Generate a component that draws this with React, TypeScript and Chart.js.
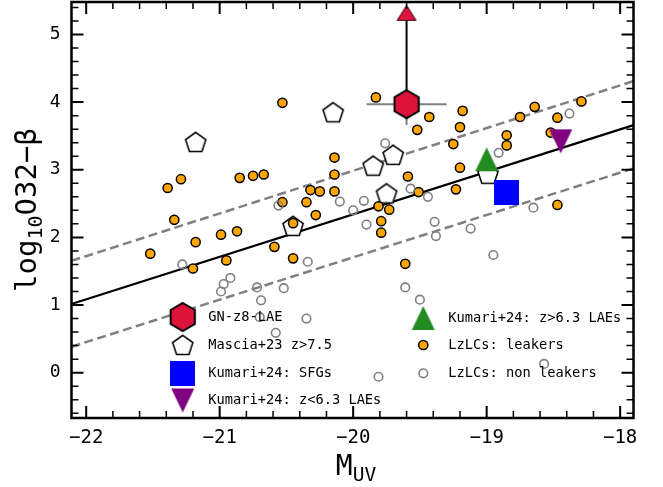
import React, { useEffect, useRef } from 'react';
import { Chart, registerables } from 'chart.js';
Chart.register(...registerables);

const FONT = "'DejaVu Sans Mono', monospace";

const xTicks = [-22, -21, -20, -19, -18];
const yTicks = [0, 1, 2, 3, 4, 5];
const xLimits = [-22.11, -17.9];
const yLimits = [-0.67, 5.48];

// LzLCs: leakers
const leakersX = [-20.53, -20.14, -20.14, -20.14, -21.39, -21.29, -20.85, -20.75, -20.67, -20.32,
  -20.25, -20.53, -20.35, -20.28, -20.45, -21.34, -20.99, -20.87, -21.18, -21.52,
  -20.59, -20.45, -20.95, -21.20, -19.83, -19.43, -19.52, -19.18, -19.20, -19.25,
  -18.85, -18.85, -18.75, -18.64, -18.47, -18.29, -18.52, -19.59, -19.20, -19.23,
  -19.51, -19.81, -19.73, -19.79, -19.79, -19.61, -18.47];
const leakersY = [3.99, 3.18, 2.93, 2.68, 2.73, 2.86, 2.88, 2.91, 2.93, 2.70,
  2.68, 2.52, 2.52, 2.33, 2.21, 2.26, 2.04, 2.09, 1.93, 1.76,
  1.86, 1.69, 1.66, 1.54, 4.07, 3.78, 3.59, 3.87, 3.63, 3.38,
  3.51, 3.36, 3.78, 3.93, 3.77, 4.01, 3.55, 2.90, 3.03, 2.71,
  2.67, 2.46, 2.41, 2.24, 2.07, 1.61, 2.48];

// LzLCs: non leakers
const nonLeakersX = [-20.56, -20.10, -20.00, -19.92, -19.90, -19.76, -19.57, -19.44, -19.39, -19.38,
  -19.12, -18.95, -19.61, -19.50, -18.91, -18.38, -18.48, -18.65, -18.57, -19.81,
  -21.28, -20.34, -20.92, -20.97, -20.99, -20.72, -20.52, -20.69, -20.70, -20.35, -20.58];
const nonLeakersY = [2.47, 2.53, 2.40, 2.54, 2.19, 3.39, 2.72, 2.60, 2.23, 2.02,
  2.13, 1.74, 1.26, 1.08, 3.25, 3.83, 3.52, 2.44, 0.13, -0.06,
  1.60, 1.64, 1.40, 1.31, 1.20, 1.26, 1.25, 1.07, 0.82, 0.80, 0.59];

// Mascia+23 z>7.5
const masciaX = [-21.18, -20.15, -20.45, -19.85, -19.70, -19.75, -18.99];
const masciaY = [3.41, 3.85, 2.17, 3.06, 3.22, 2.65, 2.94];

// Kumari+24
const sfgX = [-18.85];
const sfgY = [2.66];
const laeLowX = [-18.445];
const laeLowY = [3.42];
const laeHighX = [-19.0];
const laeHighY = [3.155];

// GN-z8-LAE
const gnX = [-19.6];
const gnY = [3.97];
const gnLimitY = [5.32];
const gnArrowY = [3.97, 5.22];
const gnXErr = [-19.9, -19.3];
const gnYErr = [3.66, 3.97];

// relations
const fitX = [-22.11, -17.9];
const fitY = [1.015, 3.66];
const upperY = [1.654, 4.31];
const lowerY = [0.384, 3.02];

const legendLeft = ['GN-z8-LAE', 'Mascia+23 z>7.5', 'Kumari+24: SFGs', 'Kumari+24: z<6.3 LAEs'];
const legendRight = ['Kumari+24: z>6.3 LAEs', 'LzLCs: leakers', 'LzLCs: non leakers'];

const pts = (xs: number[], ys: number[]) => xs.map((x, i) => ({ x, y: ys[i] }));

function makeCanvas(w: number, h: number, draw: (c: CanvasRenderingContext2D) => void) {
  const c = document.createElement('canvas');
  c.width = w;
  c.height = h;
  const ctx = c.getContext('2d')!;
  draw(ctx);
  return c;
}

function polygon(ctx: CanvasRenderingContext2D, cx: number, cy: number, r: number, n: number) {
  ctx.beginPath();
  for (let k = 0; k < n; k++) {
    const a = -Math.PI / 2 + (k * 2 * Math.PI) / n;
    const px = cx + r * Math.cos(a);
    const py = cy + r * Math.sin(a);
    if (k === 0) ctx.moveTo(px, py); else ctx.lineTo(px, py);
  }
  ctx.closePath();
}

export default function App() {
  const ref = useRef<HTMLCanvasElement>(null);

  useEffect(() => {
    const pent = makeCanvas(26, 26, (c) => {
      polygon(c, 13, 13.9, 10.6, 5);
      c.fillStyle = '#fff';
      c.fill();
      c.lineWidth = 1.6;
      c.strokeStyle = '#000';
      c.stroke();
    });
    const hex = makeCanvas(32, 32, (c) => {
      polygon(c, 16, 16, 14, 6);
      c.fillStyle = '#DC143C';
      c.fill();
      c.lineWidth = 2;
      c.strokeStyle = '#000';
      c.stroke();
    });
    const triUp = makeCanvas(26, 26, (c) => {
      c.beginPath();
      c.moveTo(13, 1); c.lineTo(24.5, 25); c.lineTo(1.5, 25); c.closePath();
      c.fillStyle = '#228B22';
      c.fill();
    });
    const triDown = makeCanvas(26, 26, (c) => {
      c.beginPath();
      c.moveTo(1.5, 1); c.lineTo(24.5, 1); c.lineTo(13, 25); c.closePath();
      c.fillStyle = '#800080';
      c.fill();
    });
    const redTri = makeCanvas(22, 18, (c) => {
      c.beginPath();
      c.moveTo(11, 1.5); c.lineTo(20.5, 16.5); c.lineTo(1.5, 16.5); c.closePath();
      c.fillStyle = '#DC143C';
      c.fill();
      c.lineWidth = 1;
      c.strokeStyle = '#3a0010';
      c.stroke();
    });
    const square = makeCanvas(25, 25, (c) => {
      c.fillStyle = '#0000FF';
      c.fillRect(0, 0, 25, 25);
    });

    const drawCircle = (ctx: CanvasRenderingContext2D, x: number, y: number, filled: boolean) => {
      ctx.beginPath();
      if (filled) {
        ctx.arc(x, y, 4.6, 0, Math.PI * 2);
        ctx.fillStyle = '#FFA500';
        ctx.fill();
        ctx.lineWidth = 1.5;
        ctx.strokeStyle = '#000';
        ctx.stroke();
      } else {
        ctx.arc(x, y, 4.3, 0, Math.PI * 2);
        ctx.lineWidth = 1.6;
        ctx.strokeStyle = '#808080';
        ctx.stroke();
      }
    };

    const framePlugin = {
      id: 'frame',
      afterDraw(chart: any) {
        const { ctx, chartArea: a, scales } = chart;
        const xs = scales.x;
        const ys = scales.y;
        ctx.save();
        ctx.strokeStyle = '#000';
        const tickX = (v: number, len: number, lw: number) => {
          const p = xs.getPixelForValue(v);
          ctx.lineWidth = lw;
          ctx.beginPath();
          ctx.moveTo(p, a.bottom); ctx.lineTo(p, a.bottom - len);
          ctx.moveTo(p, a.top); ctx.lineTo(p, a.top + len);
          ctx.stroke();
        };
        const tickY = (v: number, len: number, lw: number) => {
          const p = ys.getPixelForValue(v);
          ctx.lineWidth = lw;
          ctx.beginPath();
          ctx.moveTo(a.left, p); ctx.lineTo(a.left + len, p);
          ctx.moveTo(a.right, p); ctx.lineTo(a.right - len, p);
          ctx.stroke();
        };
        xTicks.forEach((v) => tickX(v, 12, 2));
        yTicks.forEach((v) => tickY(v, 12, 2));
        for (let i = Math.ceil(xs.min * 5); i <= Math.floor(xs.max * 5); i++) {
          if (i % 5 !== 0) tickX(i / 5, 7, 1.5);
        }
        for (let i = Math.ceil(ys.min * 5); i <= Math.floor(ys.max * 5); i++) {
          if (i % 5 !== 0) tickY(i / 5, 7, 1.5);
        }
        ctx.lineWidth = 2.5;
        ctx.strokeRect(a.left, a.top, a.right - a.left, a.bottom - a.top);

        // x title: M_UV
        ctx.fillStyle = '#000';
        ctx.textBaseline = 'alphabetic';
        ctx.textAlign = 'left';
        ctx.font = `28px ${FONT}`;
        const mW = ctx.measureText('M').width;
        ctx.font = `19.6px ${FONT}`;
        const uvW = ctx.measureText('UV').width;
        const xStart = 356 - (mW + uvW) / 2;
        ctx.font = `28px ${FONT}`;
        ctx.fillText('M', xStart, 475);
        ctx.font = `19.6px ${FONT}`;
        ctx.fillText('UV', xStart + mW, 480.5);

        // y title: log10 O32 - beta
        ctx.save();
        ctx.translate(35.5, (a.top + a.bottom) / 2);
        ctx.rotate(-Math.PI / 2);
        ctx.font = `29px ${FONT}`;
        const w1 = ctx.measureText('log').width;
        const w3 = ctx.measureText('O32\u2212\u03B2').width;
        ctx.font = `20px ${FONT}`;
        const w2 = ctx.measureText('10').width;
        let sx = -(w1 + w2 + w3) / 2;
        ctx.font = `29px ${FONT}`;
        ctx.fillText('log', sx, 0);
        sx += w1;
        ctx.font = `20px ${FONT}`;
        ctx.fillText('10', sx, 6);
        sx += w2;
        ctx.font = `29px ${FONT}`;
        ctx.fillText('O32\u2212\u03B2', sx, 0);
        ctx.restore();

        // legend
        const leftMarkers: HTMLCanvasElement[] = [hex, pent, square, triDown];
        const leftRows = [317, 345, 373, 400.5];
        const rightRows = [318, 345, 373.3];
        ctx.font = `13.7px ${FONT}`;
        ctx.textBaseline = 'middle';
        ctx.fillStyle = '#000';
        legendLeft.forEach((t, i) => {
          const m = leftMarkers[i];
          ctx.drawImage(m, 182.7 - m.width / 2, leftRows[i] - m.height / 2);
          ctx.fillStyle = '#000';
          ctx.fillText(t, 208.3, leftRows[i]);
        });
        legendRight.forEach((t, i) => {
          if (i === 0) ctx.drawImage(triUp, 423.3 - triUp.width / 2, rightRows[i] - triUp.height / 2);
          else drawCircle(ctx, 423.3, rightRows[i], i === 1);
          ctx.fillStyle = '#000';
          ctx.fillText(t, 448.3, rightRows[i]);
        });
        ctx.restore();
      },
    };

    const lineDs = (xs: number[], ys: number[], color: string, width: number, dash: number[], order: number) => ({
      data: pts(xs, ys),
      showLine: true,
      borderColor: color,
      borderWidth: width,
      borderDash: dash,
      pointRadius: 0,
      fill: false,
      order,
    });

    const chart = new Chart(ref.current!, {
      type: 'scatter',
      data: {
        datasets: [
          lineDs(fitX, fitY, '#000', 2.2, [], 20),
          lineDs(fitX, upperY, '#808080', 2.5, [9, 4.5], 20),
          lineDs(fitX, lowerY, '#808080', 2.5, [9, 4.5], 20),
          lineDs(gnXErr, [gnY[0], gnY[0]], '#808080', 2, [], 15),
          lineDs([gnX[0], gnX[0]], gnYErr, '#808080', 2, [], 15),
          lineDs([gnX[0], gnX[0]], gnArrowY, '#000', 2, [], 14),
          {
            label: 'Mascia+23 z>7.5',
            data: pts(masciaX, masciaY),
            pointStyle: pent,
            pointRadius: 10,
            order: 12,
          },
          {
            label: 'LzLCs: leakers',
            data: pts(leakersX, leakersY),
            pointStyle: 'circle',
            pointRadius: 4.6,
            pointBackgroundColor: '#FFA500',
            pointBorderColor: '#000',
            pointBorderWidth: 1.5,
            order: 11,
          },
          {
            label: 'LzLCs: non leakers',
            data: pts(nonLeakersX, nonLeakersY),
            pointStyle: 'circle',
            pointRadius: 4.3,
            pointBackgroundColor: 'rgba(0,0,0,0)',
            pointBorderColor: '#808080',
            pointBorderWidth: 1.6,
            order: 10,
          },
          {
            label: 'Kumari+24: SFGs',
            data: pts(sfgX, sfgY),
            pointStyle: square,
            pointRadius: 10,
            order: 5,
          },
          {
            label: 'Kumari+24: z<6.3 LAEs',
            data: pts(laeLowX, laeLowY),
            pointStyle: triDown,
            pointRadius: 10,
            order: 5,
          },
          {
            label: 'Kumari+24: z>6.3 LAEs',
            data: pts(laeHighX, laeHighY),
            pointStyle: triUp,
            pointRadius: 10,
            order: 4,
          },
          {
            label: 'GN-z8-LAE',
            data: pts(gnX, gnY),
            pointStyle: hex,
            pointRadius: 10,
            order: 2,
          },
          {
            label: 'GN-z8-LAE limit',
            data: pts(gnX, gnLimitY),
            pointStyle: redTri,
            pointRadius: 5,
            order: 2,
          },
        ] as any,
      },
      options: {
        animation: false,
        responsive: false,
        maintainAspectRatio: false,
        events: [],
        layout: { autoPadding: false, padding: { top: 2, right: 29.5, left: 0, bottom: 0 } },
        plugins: { legend: { display: false }, tooltip: { enabled: false } },
        scales: {
          x: {
            type: 'linear',
            min: xLimits[0],
            max: xLimits[1],
            grid: { display: false, drawTicks: false, tickLength: 0 },
            border: { display: false },
            afterFit: (s: any) => {
              s.height = 69;
              s.paddingLeft = 0;
              s.paddingRight = 0;
              s.paddingTop = 0;
              s.paddingBottom = 0;
            },
            afterBuildTicks: (s: any) => { s.ticks = xTicks.map((v) => ({ value: v })); },
            ticks: {
              padding: 9,
              color: '#000',
              font: { family: FONT, size: 19 },
              maxRotation: 0,
              callback: (v: any) => (v < 0 ? '\u2212' + Math.abs(v) : String(v)),
            },
          },
          y: {
            type: 'linear',
            min: yLimits[0],
            max: yLimits[1],
            grid: { display: false, drawTicks: false, tickLength: 0 },
            border: { display: false },
            afterFit: (s: any) => {
              s.width = 71.5;
              s.paddingTop = 0;
              s.paddingBottom = 0;
              s.paddingLeft = 0;
              s.paddingRight = 0;
            },
            afterBuildTicks: (s: any) => { s.ticks = yTicks.map((v) => ({ value: v })); },
            ticks: {
              padding: 11,
              color: '#000',
              font: { family: FONT, size: 18 },
              callback: (v: any) => (v < 0 ? '\u2212' + Math.abs(v) : String(v)),
            },
          },
        },
      } as any,
      plugins: [framePlugin],
    });
    return () => chart.destroy();
  }, []);

  return (
    <div style={{ position: 'fixed', left: 0, top: 0, width: 663, height: 487, background: '#fff' }}>
      <canvas ref={ref} width={663} height={487} style={{ width: 663, height: 487, display: 'block' }} />
    </div>
  );
}
